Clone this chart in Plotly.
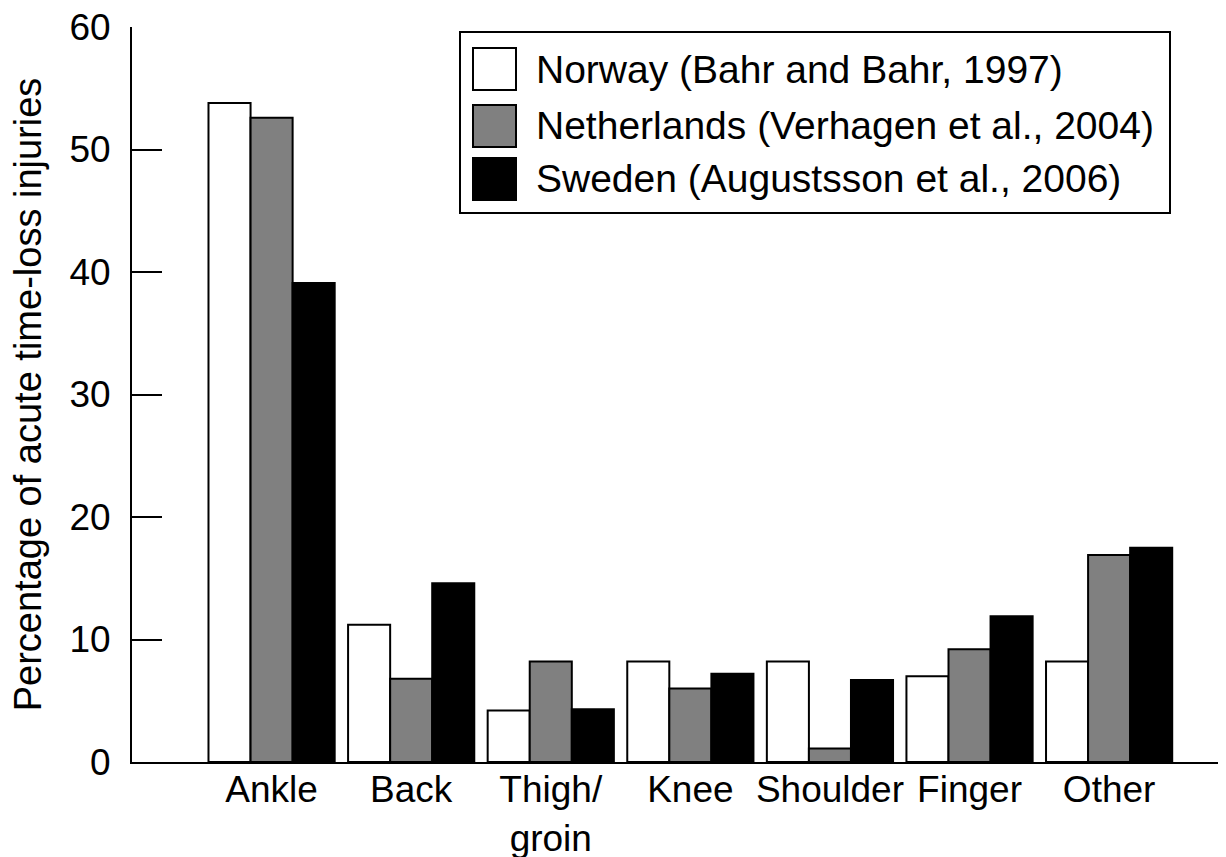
import plotly.graph_objects as go

categories = ["Ankle", "Back", "Thigh/<br>groin", "Knee", "Shoulder", "Finger", "Other"]
series_names = [
    "Norway (Bahr and Bahr, 1997)",
    "Netherlands (Verhagen et al., 2004)",
    "Sweden (Augustsson et al., 2006)",
]
norway = [53.8, 11.2, 4.2, 8.2, 8.2, 7.0, 8.2]
netherlands = [52.6, 6.8, 8.2, 6.0, 1.1, 9.2, 16.9]
sweden = [39.1, 14.6, 4.3, 7.2, 6.7, 11.9, 17.5]
series_values = [norway, netherlands, sweden]
series_colors = ["#ffffff", "#808080", "#000000"]
y_ticks = [0, 10, 20, 30, 40, 50, 60]

FONT = "Liberation Sans, Arial, sans-serif"
W, H = 1226, 857
# plot area in page pixels: x 132..1218, y 27..762
ML, MT = 132, 27
MR = W - 1218
MB = H - 762
PW, PH = W - ML - MR, H - MT - MB

fig = go.Figure()
for name, vals, col in zip(series_names, series_values, series_colors):
    fig.add_trace(go.Bar(
        x=categories, y=vals, name=name,
        marker=dict(color=col, line=dict(color="black", width=2)),
        showlegend=False,
    ))

def px2paper(px, py):
    return (px - ML) / PW, (H - MB - py) / PH

shapes = []
annotations = []
x0, y0 = px2paper(460, 32)
x1, y1 = px2paper(1170, 213)
shapes.append(dict(type="rect", xref="paper", yref="paper", x0=x0, y0=y1, x1=x1, y1=y0,
                   line=dict(color="black", width=2), fillcolor="white", layer="above"))
row_centers = [69, 126, 179]
for name, col, cy in zip(series_names, series_colors, row_centers):
    sx0, sy0 = px2paper(473, cy - 21)
    sx1, sy1 = px2paper(516, cy + 21)
    shapes.append(dict(type="rect", xref="paper", yref="paper", x0=sx0, y0=sy1, x1=sx1, y1=sy0,
                       line=dict(color="black", width=2), fillcolor=col, layer="above"))
    tx, ty = px2paper(534, cy)
    annotations.append(dict(xref="paper", yref="paper", x=tx, y=ty, text=name,
                            showarrow=False, xanchor="left", yanchor="middle",
                            font=dict(family=FONT, size=39, color="black")))

fig.update_layout(
    width=W, height=H,
    margin=dict(l=ML, r=MR, t=MT, b=MB, autoexpand=False),
    paper_bgcolor="white", plot_bgcolor="white",
    barmode="group", bargap=0.096, bargroupgap=0,
    shapes=shapes, annotations=annotations,
    font=dict(family=FONT, color="black"),
    xaxis=dict(
        type="category", range=[-1.0, 6.78],
        showline=True, linecolor="black", linewidth=2,
        ticks="", showgrid=False, zeroline=False,
        tickfont=dict(family=FONT, size=37, color="black"),
        ticklabelstandoff=-6,
        automargin=False,
    ),
    yaxis=dict(
        range=[0, 60], tickvals=y_ticks, ticktext=[str(v) for v in y_ticks],
        showline=True, linecolor="black", linewidth=2,
        ticks="inside", ticklen=30, tickwidth=2, tickcolor="black",
        ticklabelstandoff=12, ticklabeloverflow="allow",
        showgrid=False, zeroline=False,
        tickfont=dict(family=FONT, size=37, color="black"),
        title=dict(text="Percentage of acute time-loss injuries",
                   font=dict(family=FONT, size=38, color="black"), standoff=16),
        automargin=False,
    ),
)

fig.write_html("out.html", config={"displayModeBar": False},
               post_script="document.body.style.margin='0px';")
